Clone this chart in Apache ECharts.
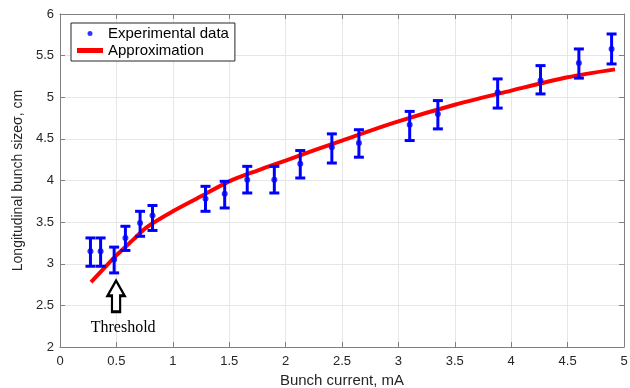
<!DOCTYPE html>
<html>
<head>
<meta charset="utf-8">
<script src="https://cdn.jsdelivr.net/npm/echarts@6/dist/echarts.min.js"></script>
<style>
  html, body { margin: 0; padding: 0; background: #fff; }
  #main { width: 630px; height: 388px; }
</style>
</head>
<body>
<div id="main"></div>
<script>
// measured points: current (mA), size (cm), error bar low / high
var current = [0.27, 0.36, 0.48, 0.58, 0.71, 0.82, 1.29, 1.46, 1.66, 1.90, 2.13, 2.41, 2.65, 3.10, 3.35, 3.88, 4.26, 4.60, 4.89];
var sizeVal = [3.15, 3.15, 3.05, 3.31, 3.49, 3.58, 3.78, 3.84, 4.01, 4.01, 4.20, 4.40, 4.45, 4.67, 4.80, 5.06, 5.20, 5.41, 5.58];
var errLow  = [2.97, 2.97, 2.89, 3.16, 3.33, 3.40, 3.63, 3.67, 3.85, 3.85, 4.03, 4.21, 4.28, 4.48, 4.62, 4.87, 5.04, 5.23, 5.40];
var errHigh = [3.31, 3.31, 3.20, 3.45, 3.63, 3.70, 3.93, 3.99, 4.17, 4.17, 4.36, 4.56, 4.61, 4.83, 4.96, 5.22, 5.38, 5.58, 5.76];

// approximation curve
var fitX = [0.275, 0.4, 0.5, 0.65, 0.77, 1.0, 1.25, 1.5, 1.75, 2.0, 2.5, 3.0, 3.5, 4.0, 4.5, 4.92];
var fitY = [2.78, 2.96, 3.10, 3.29, 3.44, 3.63, 3.81, 3.99, 4.12, 4.24, 4.48, 4.71, 4.91, 5.08, 5.24, 5.335];

var xTicks = [0, 5, 0.5];
var yTicks = [2, 6, 0.5];

var pts = [], bars = [], fit = [];
for (var i = 0; i < current.length; i++) {
    pts.push([current[i], sizeVal[i]]);
    bars.push([current[i], sizeVal[i], errLow[i], errHigh[i]]);
}
for (var j = 0; j < fitX.length; j++) {
    fit.push([fitX[j], fitY[j]]);
}

var axisGray = '#808080';
var txt = '#262626';

function errorBar(params, api) {
    var x = api.value(0);
    var hi = api.coord([x, api.value(3)]);
    var lo = api.coord([x, api.value(2)]);
    var w = 5;
    var st = { stroke: '#0000ff', lineWidth: 3 };
    return {
        type: 'group',
        children: [
            { type: 'line', shape: { x1: hi[0], y1: hi[1], x2: lo[0], y2: lo[1] }, style: st },
            { type: 'line', shape: { x1: hi[0] - w, y1: hi[1], x2: hi[0] + w, y2: hi[1] }, style: st },
            { type: 'line', shape: { x1: lo[0] - w, y1: lo[1], x2: lo[0] + w, y2: lo[1] }, style: st }
        ]
    };
}

var myChart = echarts.init(document.getElementById('main'));
var option = {
    animation: false,
    textStyle: { fontFamily: 'Liberation Sans' },
    grid: { left: 60, right: 6, top: 14, bottom: 41, show: false, outerBoundsMode: 'none' },
    legend: {
        orient: 'vertical',
        left: 71,
        top: 23,
        padding: [3, 6, 3, 6],
        itemGap: 2,
        itemWidth: 26,
        itemHeight: 5,
        backgroundColor: '#fff',
        borderColor: '#262626',
        borderWidth: 1,
        textStyle: { fontSize: 15, color: '#000', fontFamily: 'Liberation Sans' },
        data: [
            { name: 'Experimental data', icon: 'circle' },
            { name: 'Approximation', icon: 'rect' }
        ]
    },
    xAxis: [{
        type: 'value',
        min: xTicks[0], max: xTicks[1], interval: xTicks[2],
        name: 'Bunch current, mA',
        nameLocation: 'middle',
        nameGap: 26,
        nameTextStyle: { fontSize: 15, color: txt },
        axisLine: { show: true, lineStyle: { color: axisGray } },
        axisTick: { show: true, inside: true, length: 5, lineStyle: { color: axisGray } },
        axisLabel: { fontSize: 13, color: txt, margin: 8 },
        splitLine: { show: true, lineStyle: { color: '#e6e6e6' } }
    }, {
        type: 'value', position: 'top',
        min: xTicks[0], max: xTicks[1], interval: xTicks[2],
        axisLine: { show: true, onZero: false, lineStyle: { color: axisGray } },
        axisTick: { show: true, inside: true, length: 5, lineStyle: { color: axisGray } },
        axisLabel: { show: false },
        splitLine: { show: false }
    }],
    yAxis: [{
        type: 'value',
        min: yTicks[0], max: yTicks[1], interval: yTicks[2],
        name: 'Longitudinal bunch size\u03c3, cm',
        nameLocation: 'middle',
        nameGap: 29,
        nameTextStyle: { fontSize: 14, color: txt },
        axisLine: { show: true, lineStyle: { color: axisGray } },
        axisTick: { show: true, inside: true, length: 5, lineStyle: { color: axisGray } },
        axisLabel: { fontSize: 13, color: txt, margin: 6 },
        splitLine: { show: true, lineStyle: { color: '#e6e6e6' } }
    }, {
        type: 'value', position: 'right',
        min: yTicks[0], max: yTicks[1], interval: yTicks[2],
        axisLine: { show: true, onZero: false, lineStyle: { color: axisGray } },
        axisTick: { show: true, inside: true, length: 5, lineStyle: { color: axisGray } },
        axisLabel: { show: false },
        splitLine: { show: false }
    }],
    series: [
        {
            name: 'Approximation',
            type: 'line',
            data: fit,
            smooth: 0.3,
            showSymbol: false,
            symbol: 'none',
            lineStyle: { color: '#ff0000', width: 4 },
            itemStyle: { color: '#ff0000' },
            z: 3,
            markPoint: {
                silent: true,
                symbolKeepAspect: true,
                data: [
                    {
                        coord: [0.497, 2.61],
                        symbol: 'path://M11.5,0L23,15L17,15L17,31L6,31L6,15L0,15Z',
                        symbolSize: [23, 31],
                        itemStyle: { color: '#fff', borderColor: '#000', borderWidth: 2.5 },
                        label: { show: false }
                    },
                    {
                        coord: [0.56, 2.23],
                        symbol: 'rect',
                        symbolSize: 1,
                        itemStyle: { color: 'rgba(0,0,0,0)' },
                        label: {
                            show: true,
                            position: 'inside',
                            formatter: 'Threshold',
                            color: '#000',
                            fontSize: 16,
                            fontFamily: 'Liberation Serif'
                        }
                    }
                ]
            }
        },
        {
            name: 'errbars',
            type: 'custom',
            renderItem: errorBar,
            data: bars,
            encode: { x: 0, y: [2, 3] },
            z: 4
        },
        {
            name: 'Experimental data',
            type: 'scatter',
            data: pts,
            symbol: 'circle',
            symbolSize: 6,
            itemStyle: { color: '#0000ff' },
            z: 5
        }
    ]
};
myChart.setOption(option);
</script>
</body>
</html>
